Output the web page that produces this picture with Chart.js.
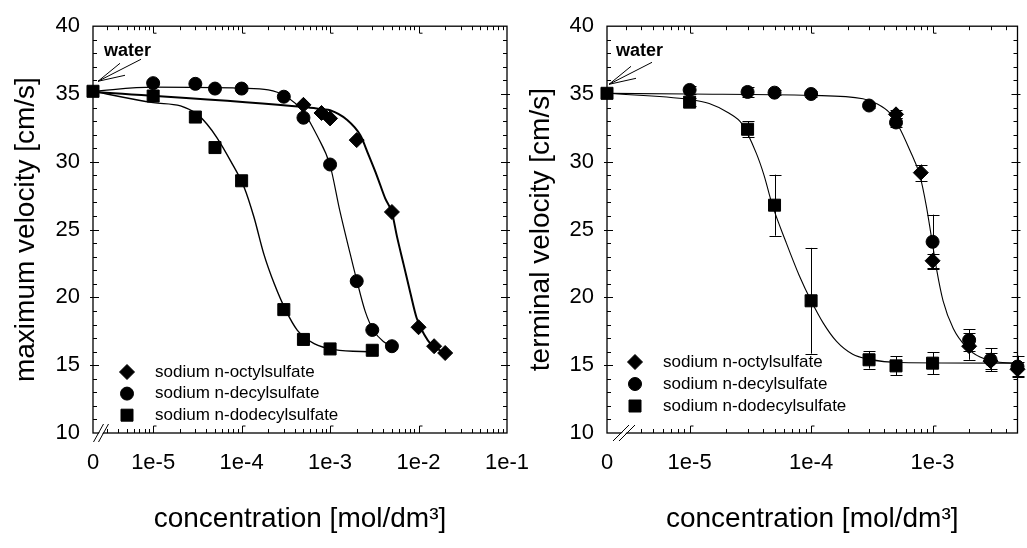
<!DOCTYPE html>
<html>
<head>
<meta charset="utf-8">
<script src="https://cdn.jsdelivr.net/npm/chart.js@4.4.0/dist/chart.umd.min.js"></script>
<style>
  html, body { margin: 0; padding: 0; background: #fff; }
  #wrap { position: relative; width: 1027px; height: 548px; overflow: hidden; }
  .panel { position: absolute; top: 0; height: 548px; }
  #left { left: 0; width: 560px; }
  #right { left: 515px; width: 512px; }
</style>
</head>
<body>
<div id="wrap">
  <div class="panel" id="left"><canvas id="maxChart" width="560" height="548"></canvas></div>
  <div class="panel" id="right"><canvas id="termChart" width="512" height="548"></canvas></div>
</div>
<script>
// concentrations in mol/dm3, 0 means pure water (drawn at the broken axis start)
const X_ZERO = -5.68;

const yTicks = [10, 15, 20, 25, 30, 35, 40];
const leftTickConc = [0, 1e-5, 1e-4, 1e-3, 1e-2, 1e-1];
const leftTickLabels = ['0', '1e-5', '1e-4', '1e-3', '1e-2', '1e-1'];
const rightTickConc = [0, 1e-5, 1e-4, 1e-3];
const rightTickLabels = ['0', '1e-5', '1e-4', '1e-3'];
const seriesNames = ['sodium n-octylsulfate', 'sodium n-decylsulfate', 'sodium n-dodecylsulfate'];

// ---- maximum velocity (left) ----
const waterMax = 35.2;
const octylMaxConc = [5e-4, 8e-4, 1e-3, 2e-3, 5e-3, 1e-2, 1.5e-2, 2e-2];
const octylMaxVel = [34.2, 33.6, 33.2, 31.6, 26.3, 17.8, 16.4, 15.9];
const decylMaxConc = [1e-5, 3e-5, 5e-5, 1e-4, 3e-4, 5e-4, 1e-3, 2e-3, 3e-3, 5e-3];
const decylMaxVel = [35.8, 35.75, 35.4, 35.4, 34.8, 33.25, 29.8, 21.2, 17.6, 16.4];
const dodecMaxConc = [1e-5, 3e-5, 5e-5, 1e-4, 3e-4, 5e-4, 1e-3, 3e-3];
const dodecMaxVel = [34.85, 33.3, 31.05, 28.6, 19.1, 16.9, 16.2, 16.1];

// fitted curves
const octylMaxFitConc = [0, 5.1e-4, 8.3e-4, 1e-3, 1.55e-3, 2.2e-3, 2.7e-3, 3.4e-3, 4.2e-3, 5e-3, 5.7e-3, 6.8e-3, 8.1e-3, 9.5e-3, 1.15e-2, 1.4e-2, 1.8e-2, 2.3e-2];
const octylMaxFitVel = [35.17, 34.04, 33.87, 33.8, 33.1, 31.95, 30.56, 28.93, 27.3, 26.26, 24.5, 22.4, 20.3, 18.5, 17.3, 16.5, 16.05, 15.8];
const decylMaxFitConc = [0, 1e-5, 1e-4, 2e-4, 3.1e-4, 5e-4, 7.1e-4, 1e-3, 1.29e-3, 1.7e-3, 2e-3, 2.5e-3, 3.1e-3, 4e-3, 5.2e-3];
const decylMaxFitVel = [35.2, 35.5, 35.42, 35.3, 34.85, 33.69, 31.95, 29.74, 26.38, 23.13, 21.28, 18.95, 17.56, 16.75, 16.36];
const dodecMaxFitConc = [0, 1e-5, 2.04e-5, 3.16e-5, 4.07e-5, 5.25e-5, 7.5e-5, 1.07e-4, 1.38e-4, 1.78e-4, 2.34e-4, 3.16e-4, 4.27e-4, 6.6e-4, 1.12e-3, 3.16e-3];
const dodecMaxFitVel = [35.2, 34.36, 34.12, 33.5, 32.77, 31.79, 30.07, 28.11, 25.91, 23.21, 21.0, 19.04, 17.57, 16.59, 16.15, 15.98];

// ---- terminal velocity (right) ----
const waterTerm = 35.05;
const octylTermConc = [5e-4, 8e-4, 1e-3, 2e-3, 3e-3, 5e-3];
const octylTermVel = [33.5, 29.2, 22.7, 16.4, 15.3, 14.7];
const octylTermErr = [0.3, 0.6, 0.5, 1.0, 0.6, 0.5];
const decylTermConc = [1e-5, 3e-5, 5e-5, 1e-4, 3e-4, 5e-4, 1e-3, 2e-3, 3e-3, 5e-3];
const decylTermVel = [35.3, 35.15, 35.1, 35.0, 34.15, 32.9, 24.1, 16.85, 15.4, 14.9];
const decylTermErr = [0.3, 0.4, 0.2, 0.2, 0.2, 0.3, 2.0, 0.8, 0.85, 0.8];
const dodecTermConc = [1e-5, 3e-5, 5e-5, 1e-4, 3e-4, 5e-4, 1e-3];
const dodecTermVel = [34.4, 32.4, 26.8, 19.75, 15.4, 14.95, 15.15];
const dodecTermErr = [0.3, 0.6, 2.25, 3.9, 0.65, 0.7, 0.8];

const decylTermFitConc = [0, 1e-5, 1e-4, 2.67e-4, 3.44e-4, 4.44e-4, 5.2e-4, 6.5e-4, 7.85e-4, 8.9e-4, 9.8e-4, 1.08e-3, 1.22e-3, 1.48e-3, 1.91e-3, 2.46e-3, 3.38e-3, 5e-3];
const decylTermFitVel = [35.05, 35.0, 34.9, 34.65, 34.3, 33.6, 32.7, 30.85, 29.0, 26.7, 24.4, 22.05, 19.75, 17.7, 16.3, 15.6, 15.25, 15.13];
const dodecTermFitConc = [0, 1e-5, 1.45e-5, 2.1e-5, 2.7e-5, 3.55e-5, 4.1e-5, 4.8e-5, 6.2e-5, 8e-5, 1e-4, 1.26e-4, 1.62e-4, 2.2e-4, 2.95e-4, 5.4e-4, 5e-3];
const dodecTermFitVel = [35.05, 34.6, 34.3, 33.6, 32.8, 30.6, 29.0, 26.8, 24.1, 21.6, 19.75, 18.1, 16.75, 15.8, 15.45, 15.2, 15.15];

function toX(c) { return c === 0 ? X_ZERO : Math.log10(c); }
function pts(conc, vals) { return conc.map((c, i) => ({ x: toX(c), y: vals[i] })); }

function markerSet(conc, vals, style, radius, errors) {
  return {
    data: pts(conc, vals), pointStyle: style, pointRadius: radius,
    backgroundColor: '#000', borderColor: '#000', borderWidth: 1,
    showLine: false, clip: false, order: 1, errors: errors
  };
}
function curveSet(conc, vals, width) {
  return {
    data: pts(conc, vals), showLine: true, pointRadius: 0,
    borderColor: '#000', borderWidth: width, fill: false,
    cubicInterpolationMode: 'monotone', tension: 0.4, order: 2
  };
}

function drawMarker(ctx, style, x, y) {
  ctx.beginPath();
  if (style === 'rect') {
    ctx.rect(x - 6, y - 6, 12, 12);
  } else if (style === 'circle') {
    ctx.arc(x, y, 6.5, 0, Math.PI * 2);
  } else {
    ctx.moveTo(x, y - 7.5); ctx.lineTo(x + 7.5, y); ctx.lineTo(x, y + 7.5); ctx.lineTo(x - 7.5, y);
    ctx.closePath();
  }
  ctx.fill();
  ctx.stroke();
}

// frame, inward ticks, axis break, "water" note, legend and error bars
const panelDecor = {
  id: 'panelDecor',
  beforeDatasetsDraw(chart) {
    const { ctx, chartArea: a, scales: { x, y } } = chart;
    ctx.save();
    ctx.strokeStyle = '#000';
    ctx.lineWidth = 1;
    ctx.beginPath();
    for (let d = -6; d <= -1; d++) {
      for (let m = 1; m <= 9; m++) {
        const v = d + Math.log10(m);
        if (v < x.min + 0.05 || v > x.max - 0.01) continue;
        const px = Math.round(x.getPixelForValue(v)) + 0.5;
        const len = m === 1 ? 7 : 4;
        ctx.moveTo(px, a.bottom); ctx.lineTo(px, a.bottom - len);
        ctx.moveTo(px, a.top); ctx.lineTo(px, a.top + len);
        if (m === 1) {
          ctx.lineTo(px + 3, a.top + len);
          ctx.moveTo(px, a.bottom - len); ctx.lineTo(px + 3, a.bottom - len);
        }
      }
    }
    for (let v = y.min + 1; v < y.max; v++) {
      const py = Math.round(y.getPixelForValue(v)) + 0.5;
      const major = v % 5 === 0;
      ctx.moveTo(a.left - (major ? 3 : 0), py); ctx.lineTo(a.left + (major ? 6 : 4), py);
      ctx.moveTo(a.right + (major ? 3 : 0), py); ctx.lineTo(a.right - (major ? 6 : 4), py);
    }
    ctx.stroke();
    ctx.lineWidth = 1.3;
    ctx.strokeRect(a.left, a.top, a.right - a.left, a.bottom - a.top);
    ctx.restore();
  },
  afterDatasetsDraw(chart, args, opts) {
    const { ctx, chartArea: a, scales: { x, y } } = chart;
    ctx.save();
    ctx.strokeStyle = '#000';
    ctx.fillStyle = '#000';
    ctx.lineWidth = 1;

    // error bars
    chart.data.datasets.forEach((ds, i) => {
      if (!ds.errors) return;
      chart.getDatasetMeta(i).data.forEach((el, j) => {
        const e = ds.errors[j];
        const top = y.getPixelForValue(ds.data[j].y + e);
        const bot = y.getPixelForValue(ds.data[j].y - e);
        const px = Math.round(el.x) + 0.5;
        ctx.beginPath();
        ctx.moveTo(px, top); ctx.lineTo(px, bot);
        ctx.moveTo(px - 6, Math.round(top) + 0.5); ctx.lineTo(px + 6, Math.round(top) + 0.5);
        ctx.moveTo(px - 6, Math.round(bot) + 0.5); ctx.lineTo(px + 6, Math.round(bot) + 0.5);
        ctx.stroke();
      });
    });

    // axis break
    const b = opts.brk;
    const bx = a.left + b.dx, by = a.bottom;
    ctx.strokeStyle = '#fff';
    ctx.lineWidth = 3;
    ctx.beginPath();
    ctx.moveTo(bx - b.w, by + b.h); ctx.lineTo(bx + b.w, by - b.h);
    ctx.stroke();
    ctx.strokeStyle = '#000';
    ctx.lineWidth = 1;
    ctx.beginPath();
    [-b.gap, b.gap].forEach(o => {
      ctx.moveTo(bx - b.w + o, by + b.h); ctx.lineTo(bx + b.w + o, by - b.h);
    });
    ctx.stroke();

    // water note
    const wx = x.getPixelForValue(X_ZERO), wy = y.getPixelForValue(opts.water);
    const tx = wx + opts.tip[0], ty = wy + opts.tip[1];
    ctx.beginPath();
    [[22, -18], [43, -22], [27, -6]].forEach(p => { ctx.moveTo(tx, ty); ctx.lineTo(tx + p[0], ty + p[1]); });
    ctx.stroke();
    ctx.font = 'bold 18px "Liberation Sans", Arial, sans-serif';
    ctx.textBaseline = 'middle';
    ctx.textAlign = 'left';
    ctx.fillText('water', wx + opts.text[0], wy + opts.text[1]);

    // legend
    const lg = opts.legend;
    ctx.font = '17px "Liberation Sans", Arial, sans-serif';
    ['rectRot', 'circle', 'rect'].forEach((st, i) => {
      const ly = a.bottom - lg.y0 + i * lg.gap;
      drawMarker(ctx, st, a.left + lg.mx, ly);
      ctx.fillText(seriesNames[i], a.left + lg.tx, ly);
    });
    ctx.restore();
  }
};

function makeChart(id, cfg) {
  const font = '"Liberation Sans", Arial, sans-serif';
  return new Chart(document.getElementById(id), {
    type: 'scatter',
    data: { datasets: cfg.datasets },
    options: {
      responsive: false,
      animation: false,
      events: [],
      layout: { padding: { top: 25, right: cfg.padRight, left: 0, bottom: 0 } },
      plugins: { legend: { display: false }, tooltip: { enabled: false }, panelDecor: cfg.decor },
      scales: {
        x: {
          type: 'linear', min: X_ZERO, max: cfg.xMax,
          grid: { display: false, drawTicks: false }, border: { display: false },
          afterBuildTicks: s => { s.ticks = cfg.tickConc.map(c => ({ value: toX(c) })); },
          afterFit: s => { s.height = 548 - 433; },
          ticks: {
            autoSkip: false, maxRotation: 0, padding: 17, color: '#000',
            font: { family: font, size: 22 },
            callback: (v, i) => cfg.tickLabels[i]
          },
          title: {
            display: true, text: 'concentration [mol/dm\u00B3]', color: '#000',
            font: { family: font, size: 28 }, padding: { top: 0, bottom: 12 }
          }
        },
        y: {
          type: 'linear', min: 10, max: 40,
          grid: { display: false, drawTicks: false }, border: { display: false },
          afterBuildTicks: s => { s.ticks = yTicks.map(v => ({ value: v })); },
          afterFit: s => { s.width = cfg.yWidth; },
          ticks: { padding: 13, color: '#000', font: { family: font, size: 22 } },
          title: {
            display: true, text: cfg.yTitle, color: '#000',
            font: { family: font, size: 28 }, padding: { top: 9, bottom: 0 }
          }
        }
      }
    },
    plugins: [panelDecor]
  });
}

makeChart('maxChart', {
  yTitle: 'maximum velocity [cm/s]',
  xMax: toX(1e-1), tickConc: leftTickConc, tickLabels: leftTickLabels,
  yWidth: 93, padRight: 560 - 507,
  decor: {
    water: waterMax, tip: [5, -10], text: [11, -40],
    brk: { dx: 8, w: 5, h: 9, gap: 2.5 },
    legend: { mx: 34, tx: 62, y0: 61, gap: 21.6 }
  },
  datasets: [
    curveSet(octylMaxFitConc, octylMaxFitVel, 2),
    curveSet(decylMaxFitConc, decylMaxFitVel, 1.2),
    curveSet(dodecMaxFitConc, dodecMaxFitVel, 1.4),
    markerSet(octylMaxConc, octylMaxVel, 'rectRot', 7.5),
    markerSet(decylMaxConc, decylMaxVel, 'circle', 6.5),
    markerSet(dodecMaxConc, dodecMaxVel, 'rect', 8.5),
    markerSet([0], [waterMax], 'rect', 8.5)
  ]
});

makeChart('termChart', {
  yTitle: 'terminal velocity [cm/s]',
  xMax: toX(5e-3), tickConc: rightTickConc, tickLabels: rightTickLabels,
  yWidth: 92, padRight: 7,
  decor: {
    water: waterTerm, tip: [2, -9], text: [9, -42],
    brk: { dx: 17, w: 8, h: 8, gap: 3 },
    legend: { mx: 28, tx: 56, y0: 71, gap: 22 }
  },
  datasets: [
    curveSet(decylTermFitConc, decylTermFitVel, 1.1),
    curveSet(dodecTermFitConc, dodecTermFitVel, 1.1),
    markerSet(octylTermConc, octylTermVel, 'rectRot', 7.5, octylTermErr),
    markerSet(decylTermConc, decylTermVel, 'circle', 6.5, decylTermErr),
    markerSet(dodecTermConc, dodecTermVel, 'rect', 8.5, dodecTermErr),
    markerSet([0], [waterTerm], 'rect', 8.5)
  ]
});
</script>
</body>
</html>
